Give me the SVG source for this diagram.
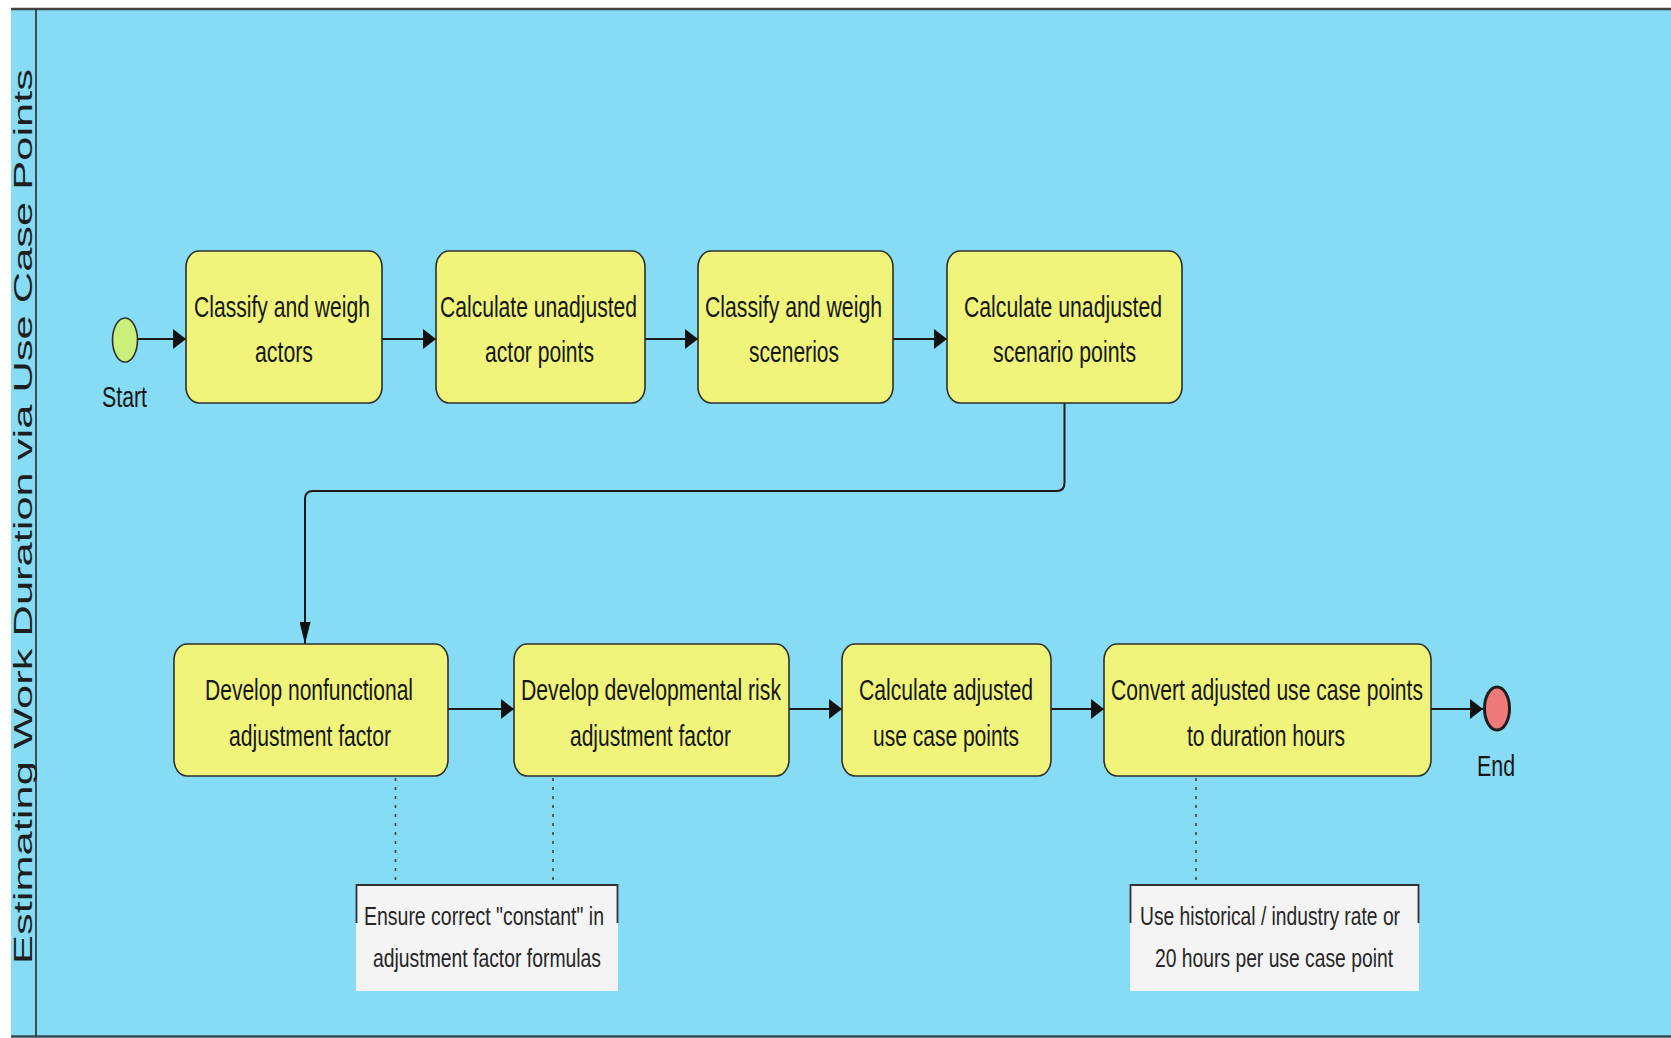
<svg xmlns="http://www.w3.org/2000/svg" width="1671" height="1038" viewBox="0 0 1671 1038">
  <style>
    .pool { fill: #86dcf4; }
    .edge { stroke: #444; stroke-width: 2.5; fill: none; }
    .divider { stroke: #2a2a2a; stroke-width: 1.6; }
    .task { fill: #f0f47a; stroke: #2e2e2e; stroke-width: 1.6; }
    .lbl { font-family: "Liberation Sans", Arial, sans-serif; font-size: 30px; fill: #161616; text-anchor: middle; }
    .note-lbl { font-family: "Liberation Sans", Arial, sans-serif; font-size: 26px; fill: #262626; text-anchor: middle; }
    .title { font-family: "Liberation Sans", Arial, sans-serif; font-size: 40px; fill: #1e1e1e; text-anchor: middle; }
    .flow { stroke: #1a1a1a; stroke-width: 2; fill: none; }
    .assoc { stroke: #444; stroke-width: 1.6; stroke-dasharray: 3 6; fill: none; }
    .note { fill: #f4f4f4; }
    .bracket { stroke: #333; stroke-width: 1.8; fill: none; }
  </style>
  <defs>
    <marker id="arrowH" markerUnits="userSpaceOnUse" markerWidth="13" markerHeight="20" refX="13" refY="10" orient="auto">
      <path d="M0,0 L13,10 L0,20 z" fill="#111"/>
    </marker>
    <marker id="arrowV" markerUnits="userSpaceOnUse" markerWidth="22" markerHeight="11" refX="22" refY="5.5" orient="auto">
      <path d="M0,0 L22,5.5 L0,11 z" fill="#111"/>
    </marker>
  </defs>

  <rect width="1671" height="1038" fill="#ffffff"/>

  <!-- pool with its vertical title band -->
  <g id="pool">
    <rect class="pool" x="11" y="9" width="1662" height="1027"/>
    <line class="edge" x1="11" y1="9" x2="1671" y2="9"/>
    <line class="edge" x1="11" y1="1036.5" x2="1671" y2="1036.5" style="stroke:#2f4a55"/>
    <line class="divider" x1="36" y1="9" x2="36" y2="1036"/>
    <text class="title" transform="translate(32,516.5) scale(0.66,1) rotate(-90)" textLength="895" lengthAdjust="spacingAndGlyphs">Estimating Work Duration via Use Case Points</text>
  </g>

  <!-- sequence flows and annotation links -->
  <g id="connectors">
    <path class="flow" d="M138,339 H186" marker-end="url(#arrowH)"/>
    <path class="flow" d="M382,339 H436" marker-end="url(#arrowH)"/>
    <path class="flow" d="M645,339 H698" marker-end="url(#arrowH)"/>
    <path class="flow" d="M893,339 H947" marker-end="url(#arrowH)"/>
    <path class="flow" d="M1064.5,403 V483 Q1064.5,491 1056.5,491 H313 Q305,491 305,499 V644" marker-end="url(#arrowV)"/>
    <path class="flow" d="M448,709 H514" marker-end="url(#arrowH)"/>
    <path class="flow" d="M789,709 H842" marker-end="url(#arrowH)"/>
    <path class="flow" d="M1051,709 H1104" marker-end="url(#arrowH)"/>
    <path class="flow" d="M1431,709 H1483" marker-end="url(#arrowH)"/>
    <path class="assoc" d="M395.5,778 V882"/>
    <path class="assoc" d="M553,778 V882"/>
    <path class="assoc" d="M1196,778 V882"/>
  </g>

  <g id="start">
    <ellipse cx="125" cy="340" rx="12.5" ry="22" fill="#c8f07a" stroke="#2e2e2e" stroke-width="1.6"/>
    <text class="lbl" transform="translate(124.5,407) scale(0.7,1)" textLength="64.3" lengthAdjust="spacingAndGlyphs">Start</text>
  </g>

  <g id="task-classify-actors">
    <rect class="task" x="186" y="251" width="196" height="152" rx="13" ry="16"/>
    <text class="lbl" transform="translate(282,317) scale(0.7,1)" textLength="251.4" lengthAdjust="spacingAndGlyphs">Classify and weigh</text>
    <text class="lbl" transform="translate(284,362) scale(0.7,1)" textLength="82.9" lengthAdjust="spacingAndGlyphs">actors</text>
  </g>

  <g id="task-actor-points">
    <rect class="task" x="436" y="251" width="209" height="152" rx="13" ry="16"/>
    <text class="lbl" transform="translate(538.5,317) scale(0.7,1)" textLength="281.4" lengthAdjust="spacingAndGlyphs">Calculate unadjusted</text>
    <text class="lbl" transform="translate(539.5,362) scale(0.7,1)" textLength="155.7" lengthAdjust="spacingAndGlyphs">actor points</text>
  </g>

  <g id="task-classify-scenarios">
    <rect class="task" x="698" y="251" width="195" height="152" rx="13" ry="16"/>
    <text class="lbl" transform="translate(793.5,317) scale(0.7,1)" textLength="252.9" lengthAdjust="spacingAndGlyphs">Classify and weigh</text>
    <text class="lbl" transform="translate(794,362) scale(0.7,1)" textLength="128.6" lengthAdjust="spacingAndGlyphs">scenerios</text>
  </g>

  <g id="task-scenario-points">
    <rect class="task" x="947" y="251" width="235" height="152" rx="13" ry="16"/>
    <text class="lbl" transform="translate(1063,317) scale(0.7,1)" textLength="282.9" lengthAdjust="spacingAndGlyphs">Calculate unadjusted</text>
    <text class="lbl" transform="translate(1064.5,362) scale(0.7,1)" textLength="204.3" lengthAdjust="spacingAndGlyphs">scenario points</text>
  </g>

  <g id="task-nonfunctional">
    <rect class="task" x="174" y="644" width="274" height="132" rx="13" ry="16"/>
    <text class="lbl" transform="translate(309,700) scale(0.7,1)" textLength="297.1" lengthAdjust="spacingAndGlyphs">Develop nonfunctional</text>
    <text class="lbl" transform="translate(310,746) scale(0.7,1)" textLength="231.4" lengthAdjust="spacingAndGlyphs">adjustment factor</text>
  </g>

  <g id="task-risk">
    <rect class="task" x="514" y="644" width="275" height="132" rx="13" ry="16"/>
    <text class="lbl" transform="translate(651,700) scale(0.7,1)" textLength="371.4" lengthAdjust="spacingAndGlyphs">Develop developmental risk</text>
    <text class="lbl" transform="translate(650.5,746) scale(0.7,1)" textLength="230" lengthAdjust="spacingAndGlyphs">adjustment factor</text>
  </g>

  <g id="task-adjusted-points">
    <rect class="task" x="842" y="644" width="209" height="132" rx="13" ry="16"/>
    <text class="lbl" transform="translate(946,700) scale(0.7,1)" textLength="248.6" lengthAdjust="spacingAndGlyphs">Calculate adjusted</text>
    <text class="lbl" transform="translate(946,746) scale(0.7,1)" textLength="208.6" lengthAdjust="spacingAndGlyphs">use case points</text>
  </g>

  <g id="task-convert">
    <rect class="task" x="1104" y="644" width="327" height="132" rx="13" ry="16"/>
    <text class="lbl" transform="translate(1267,700) scale(0.7,1)" textLength="445.7" lengthAdjust="spacingAndGlyphs">Convert adjusted use case points</text>
    <text class="lbl" transform="translate(1266,746) scale(0.7,1)" textLength="225.7" lengthAdjust="spacingAndGlyphs">to duration hours</text>
  </g>

  <g id="end">
    <ellipse cx="1497" cy="708.5" rx="12.5" ry="21.5" fill="#f07a7a" stroke="#1e1e1e" stroke-width="3"/>
    <text class="lbl" transform="translate(1496,776) scale(0.7,1)" textLength="54.3" lengthAdjust="spacingAndGlyphs">End</text>
  </g>

  <g id="note-constant">
    <rect class="note" x="356" y="885" width="262" height="106"/>
    <path class="bracket" d="M356.5,923 V885 H617.5 V923"/>
    <text class="note-lbl" transform="translate(484,925) scale(0.75,1)" textLength="320" lengthAdjust="spacingAndGlyphs">Ensure correct "constant" in</text>
    <text class="note-lbl" transform="translate(487,967) scale(0.75,1)" textLength="304" lengthAdjust="spacingAndGlyphs">adjustment factor formulas</text>
  </g>

  <g id="note-rate">
    <rect class="note" x="1130" y="885" width="289" height="106"/>
    <path class="bracket" d="M1130.5,923 V885 H1418.5 V923"/>
    <text class="note-lbl" transform="translate(1270,925) scale(0.75,1)" textLength="346.7" lengthAdjust="spacingAndGlyphs">Use historical / industry rate or</text>
    <text class="note-lbl" transform="translate(1274,967) scale(0.75,1)" textLength="317.3" lengthAdjust="spacingAndGlyphs">20 hours per use case point</text>
  </g>
</svg>
